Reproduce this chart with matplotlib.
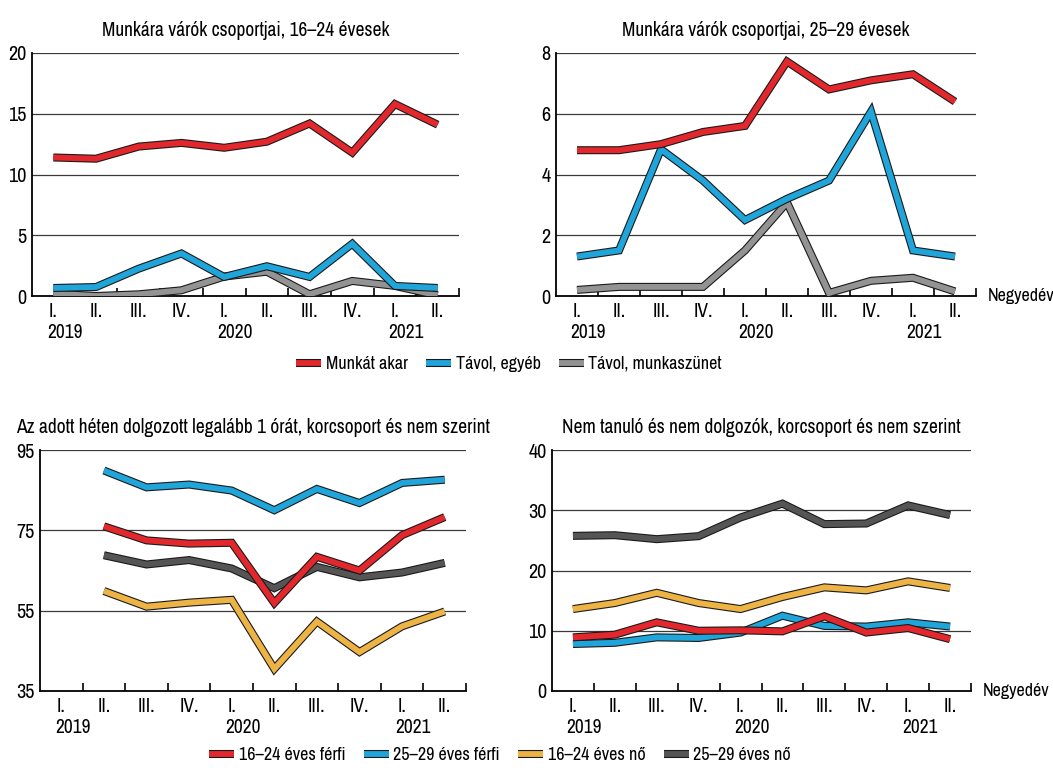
import matplotlib
matplotlib.use("Agg")
import matplotlib.pyplot as plt
import matplotlib.patheffects as pe
from matplotlib.lines import Line2D
import numpy as np

plt.rcParams['font.family'] = ['Archivo Narrow', 'DejaVu Sans']

quarters = ["I.", "II.", "III.", "IV.", "I.", "II.", "III.", "IV.", "I.", "II."]
years = ["2019", "2020", "2021"]
year_pos = [0, 4, 8]

# Panel 1: 16-24
p1_munkat = [11.4, 11.3, 12.3, 12.6, 12.2, 12.7, 14.2, 11.8, 15.8, 14.1]
p1_egyeb = [0.66, 0.74, 2.25, 3.5, 1.57, 2.45, 1.57, 4.3, 0.83, 0.66]
p1_szunet = [0.2, 0.0, 0.14, 0.47, 1.6, 2.0, 0.14, 1.24, 0.83, 0.05]

# Panel 2: 25-29
p2_munkat = [4.8, 4.8, 5.0, 5.4, 5.6, 7.72, 6.8, 7.1, 7.3, 6.4]
p2_egyeb = [1.3, 1.5, 4.83, 3.8, 2.5, 3.2, 3.8, 6.07, 1.5, 1.3]
p2_szunet = [0.2, 0.3, 0.3, 0.3, 1.5, 3.08, 0.1, 0.5, 0.6, 0.15]

# Panel 3: worked at least 1 hour (from II. 2019)
p3_ferfi1624 = [np.nan, 76.0, 72.5, 71.7, 71.9, 56.9, 68.4, 65.0, 73.8, 78.3]
p3_ferfi2529 = [np.nan, 89.9, 85.7, 86.4, 84.9, 80.0, 85.3, 81.8, 86.8, 87.6]
p3_no1624 = [np.nan, 59.9, 56.0, 57.0, 57.7, 40.5, 52.3, 44.7, 51.1, 54.8]
p3_no2529 = [np.nan, 68.8, 66.5, 67.6, 65.5, 60.6, 65.9, 63.3, 64.5, 66.9]

# Panel 4: NEET
p4_ferfi1624 = [8.9, 9.35, 11.4, 10.0, 10.07, 9.9, 12.4, 9.7, 10.45, 8.6]
p4_ferfi2529 = [7.8, 8.0, 8.9, 8.8, 9.7, 12.5, 10.8, 10.7, 11.4, 10.7]
p4_no1624 = [13.6, 14.6, 16.3, 14.6, 13.6, 15.6, 17.2, 16.7, 18.2, 17.1]
p4_no2529 = [25.75, 25.86, 25.2, 25.7, 28.8, 31.1, 27.7, 27.8, 30.8, 29.2]

RED = '#e3282d'
BLUE = '#1fa5d9'
GRAY = '#939393'
DGRAY = '#555555'
YEL = '#edb445'

LW = 4.2
EDGE = '#1a1a1a'
peff = [pe.Stroke(linewidth=LW + 1.6, foreground=EDGE), pe.Normal()]
FS_T = 14
FS_TICK = 14
FS_LEG = 13

fig = plt.figure(figsize=(10.53, 7.68), dpi=100)

def setup(ax, ylim, yticks, title, negyedev=False):
    x = np.arange(len(quarters))
    ax.set_xlim(-0.5, 9.5)
    ax.set_ylim(*ylim)
    ax.set_yticks(yticks)
    ax.tick_params(axis='y', length=0, labelsize=FS_TICK + 0.5, pad=4)
    for t in yticks[1:]:
        ax.axhline(t, color='#3a3a3a', lw=0.9, zorder=1)
    ax.set_xticks(np.arange(0.5, 10, 1))
    ax.set_xticklabels([])
    ax.tick_params(axis='x', which='major', direction='in', length=6, width=1.2, color='black')
    ax.set_xticks(x, minor=True)
    ax.set_xticklabels(quarters, minor=True, fontsize=FS_TICK)
    ax.tick_params(axis='x', which='minor', length=0, pad=4)
    for s in ['top', 'right']:
        ax.spines[s].set_visible(False)
    ax.spines['left'].set_linewidth(1.3)
    ax.spines['bottom'].set_linewidth(1.3)
    for yl, yp in zip(years, year_pos):
        ax.text(yp - 0.15, -0.11, yl, transform=ax.get_xaxis_transform(),
                ha='left', va='top', fontsize=FS_TICK)
    ax.set_title(title, fontsize=FS_T, pad=12)
    if negyedev:
        ax.text(1.028, 0.0, "Negyedév", transform=ax.transAxes, ha='left', va='center',
                fontsize=13)

def plot(ax, y, color):
    ax.plot(np.arange(len(y)), y, color=color, lw=LW, path_effects=peff,
            solid_joinstyle='miter', solid_capstyle='butt', zorder=3)

ax1 = fig.add_axes([32/1053, 1-296/768, 427/1053, 243/768])
setup(ax1, (0, 20), [0, 5, 10, 15, 20], "Munkára várók csoportjai, 16–24 évesek")
plot(ax1, p1_szunet, GRAY)
plot(ax1, p1_egyeb, BLUE)
plot(ax1, p1_munkat, RED)

ax2 = fig.add_axes([556/1053, 1-296/768, 420/1053, 243/768])
setup(ax2, (0, 8), [0, 2, 4, 6, 8], "Munkára várók csoportjai, 25–29 évesek", negyedev=True)
plot(ax2, p2_szunet, GRAY)
plot(ax2, p2_egyeb, BLUE)
plot(ax2, p2_munkat, RED)

ax3 = fig.add_axes([40/1053, 1-691/768, 426/1053, 241/768])
setup(ax3, (35, 95), [35, 55, 75, 95],
      "Az adott héten dolgozott legalább 1 órát, korcsoport és nem szerint")
plot(ax3, p3_no1624, YEL)
plot(ax3, p3_no2529, DGRAY)
plot(ax3, p3_ferfi2529, BLUE)
plot(ax3, p3_ferfi1624, RED)

ax4 = fig.add_axes([552/1053, 1-691/768, 419/1053, 241/768])
setup(ax4, (0, 40), [0, 10, 20, 30, 40],
      "Nem tanuló és nem dolgozók, korcsoport és nem szerint", negyedev=True)
plot(ax4, p4_no2529, DGRAY)
plot(ax4, p4_no1624, YEL)
plot(ax4, p4_ferfi2529, BLUE)
plot(ax4, p4_ferfi1624, RED)

def handle(color):
    return Line2D([0], [0], color=color, lw=LW, path_effects=peff, solid_capstyle='butt')

fig.legend([handle(RED), handle(BLUE), handle(GRAY)],
           ["Munkát akar", "Távol, egyéb", "Távol, munkaszünet"],
           loc='center', bbox_to_anchor=(509/1053, 1-364/768), ncol=3, frameon=False,
           fontsize=FS_LEG, handlelength=1.4, handletextpad=0.25, columnspacing=1.0)

fig.legend([handle(RED), handle(BLUE), handle(YEL), handle(DGRAY)],
           ["16–24 éves férfi", "25–29 éves férfi", "16–24 éves nő", "25–29 éves nő"],
           loc='center', bbox_to_anchor=(500/1053, 1-755/768), ncol=4, frameon=False,
           fontsize=FS_LEG, handlelength=1.4, handletextpad=0.25, columnspacing=1.0)

fig.savefig("out.png", dpi=100)
